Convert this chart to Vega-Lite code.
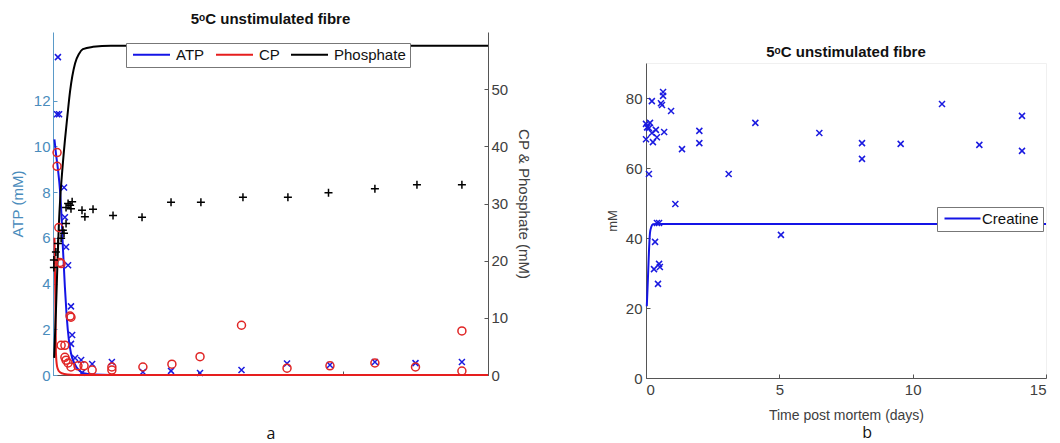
{
  "$schema": "https://vega.github.io/schema/vega-lite/v6.json",
  "padding": {"left": 10, "top": 12, "right": 0, "bottom": 0},
  "background": "white",
  "config": {"font": "Liberation Sans", "view": {"stroke": null}},
  "datasets": {
    "atpc": [
      {"s": "ATP", "t": 0.05, "v": 10.3}, {"s": "ATP", "t": 0.1, "v": 9.7}, {"s": "ATP", "t": 0.17, "v": 9.0},
      {"s": "ATP", "t": 0.24, "v": 8.1}, {"s": "ATP", "t": 0.3, "v": 6.8}, {"s": "ATP", "t": 0.34, "v": 5.6},
      {"s": "ATP", "t": 0.41, "v": 3.85}, {"s": "ATP", "t": 0.47, "v": 2.6}, {"s": "ATP", "t": 0.55, "v": 1.5},
      {"s": "ATP", "t": 0.62, "v": 0.95}, {"s": "ATP", "t": 0.76, "v": 0.45}, {"s": "ATP", "t": 0.9, "v": 0.2},
      {"s": "ATP", "t": 1.05, "v": 0.08}, {"s": "ATP", "t": 1.4, "v": 0.02}, {"s": "ATP", "t": 2, "v": 0},
      {"s": "ATP", "t": 15, "v": 0}
    ],
    "rc": [
      {"s": "CP", "t": 0.05, "v": 24}, {"s": "CP", "t": 0.08, "v": 14}, {"s": "CP", "t": 0.1, "v": 4},
      {"s": "CP", "t": 0.14, "v": 1.5}, {"s": "CP", "t": 0.2, "v": 0.7}, {"s": "CP", "t": 0.3, "v": 0.3},
      {"s": "CP", "t": 0.5, "v": 0.1}, {"s": "CP", "t": 1, "v": 0}, {"s": "CP", "t": 15, "v": 0},
      {"s": "Phosphate", "t": 0.04, "v": 3}, {"s": "Phosphate", "t": 0.1, "v": 11}, {"s": "Phosphate", "t": 0.15, "v": 19},
      {"s": "Phosphate", "t": 0.2, "v": 26}, {"s": "Phosphate", "t": 0.25, "v": 31}, {"s": "Phosphate", "t": 0.3, "v": 34.5},
      {"s": "Phosphate", "t": 0.41, "v": 41}, {"s": "Phosphate", "t": 0.5, "v": 45.5}, {"s": "Phosphate", "t": 0.59, "v": 49.7},
      {"s": "Phosphate", "t": 0.76, "v": 54.5}, {"s": "Phosphate", "t": 0.9, "v": 56.2}, {"s": "Phosphate", "t": 1.03, "v": 57},
      {"s": "Phosphate", "t": 1.38, "v": 57.4}, {"s": "Phosphate", "t": 2, "v": 57.6}, {"s": "Phosphate", "t": 15, "v": 57.6}
    ],
    "atpp": [
      {"t": 0.17, "v": 13.9}, {"t": 0.14, "v": 11.4}, {"t": 0.21, "v": 11.4}, {"t": 0.38, "v": 8.2},
      {"t": 0.41, "v": 6.9}, {"t": 0.45, "v": 5.6}, {"t": 0.52, "v": 4.8}, {"t": 0.62, "v": 3.0},
      {"t": 0.66, "v": 1.75}, {"t": 0.62, "v": 1.36}, {"t": 0.76, "v": 0.74}, {"t": 0.97, "v": 0.66},
      {"t": 1.35, "v": 0.48}, {"t": 2.03, "v": 0.57}, {"t": 1.0, "v": 0.1}, {"t": 3.1, "v": 0.13},
      {"t": 4.07, "v": 0.18}, {"t": 5.07, "v": 0.09}, {"t": 6.5, "v": 0.22}, {"t": 8.07, "v": 0.5},
      {"t": 9.55, "v": 0.44}, {"t": 11.1, "v": 0.57}, {"t": 12.5, "v": 0.52}, {"t": 14.1, "v": 0.57}
    ],
    "cpp": [
      {"t": 0.14, "v": 38.9}, {"t": 0.14, "v": 36.5}, {"t": 0.2, "v": 25.8}, {"t": 0.24, "v": 19.7},
      {"t": 0.28, "v": 19.5}, {"t": 0.62, "v": 10.1}, {"t": 0.59, "v": 10.3}, {"t": 0.28, "v": 5.2},
      {"t": 0.41, "v": 5.2}, {"t": 0.41, "v": 3.1}, {"t": 0.45, "v": 2.6}, {"t": 0.52, "v": 2.1},
      {"t": 0.62, "v": 1.4}, {"t": 0.86, "v": 1.6}, {"t": 1.07, "v": 1.6}, {"t": 1.35, "v": 0.87},
      {"t": 2.03, "v": 1.4}, {"t": 2.03, "v": 0.87}, {"t": 3.1, "v": 1.4}, {"t": 4.1, "v": 1.9},
      {"t": 5.07, "v": 3.2}, {"t": 6.5, "v": 8.7}, {"t": 8.07, "v": 1.2}, {"t": 9.55, "v": 1.6},
      {"t": 11.1, "v": 2.1}, {"t": 12.5, "v": 1.4}, {"t": 14.1, "v": 7.7}, {"t": 14.1, "v": 0.7}
    ],
    "pip": [
      {"t": 0.03, "v": 18.8}, {"t": 0.03, "v": 20.1}, {"t": 0.1, "v": 21.5}, {"t": 0.17, "v": 23.0},
      {"t": 0.28, "v": 23.9}, {"t": 0.34, "v": 25.3}, {"t": 0.38, "v": 24.8}, {"t": 0.45, "v": 26.5},
      {"t": 0.45, "v": 29.3}, {"t": 0.52, "v": 30.0}, {"t": 0.59, "v": 29.7}, {"t": 0.62, "v": 29.1},
      {"t": 0.66, "v": 30.3}, {"t": 1.0, "v": 28.8}, {"t": 1.1, "v": 27.7}, {"t": 1.38, "v": 29.0},
      {"t": 2.07, "v": 27.9}, {"t": 3.07, "v": 27.6}, {"t": 4.07, "v": 30.2}, {"t": 5.1, "v": 30.2},
      {"t": 6.55, "v": 31.1}, {"t": 8.1, "v": 31.1}, {"t": 9.5, "v": 31.9}, {"t": 11.1, "v": 32.6},
      {"t": 12.55, "v": 33.3}, {"t": 14.1, "v": 33.3}
    ],
    "crc": [
      {"s": "Creatine", "t": 0.03, "v": 20.5}, {"s": "Creatine", "t": 0.07, "v": 28}, {"s": "Creatine", "t": 0.11, "v": 36},
      {"s": "Creatine", "t": 0.15, "v": 41.5}, {"s": "Creatine", "t": 0.2, "v": 43.2}, {"s": "Creatine", "t": 0.26, "v": 43.9},
      {"s": "Creatine", "t": 0.4, "v": 44}, {"s": "Creatine", "t": 15, "v": 44}
    ],
    "crp": [
      {"t": 0.0, "v": 72.6}, {"t": 0.04, "v": 71.6}, {"t": 0.15, "v": 72.9}, {"t": 0.11, "v": 71.4},
      {"t": 0.0, "v": 68.2}, {"t": 0.22, "v": 79.1}, {"t": 0.22, "v": 70}, {"t": 0.37, "v": 70.9},
      {"t": 0.41, "v": 68.8}, {"t": 0.26, "v": 67.4}, {"t": 0.11, "v": 58.3}, {"t": 0.56, "v": 78.5},
      {"t": 0.6, "v": 78}, {"t": 0.64, "v": 81.7}, {"t": 0.64, "v": 80.6}, {"t": 0.68, "v": 70.3},
      {"t": 0.94, "v": 76.3}, {"t": 1.1, "v": 49.7}, {"t": 1.35, "v": 65.4}, {"t": 2.0, "v": 70.6},
      {"t": 2.0, "v": 67.1}, {"t": 3.1, "v": 58.3}, {"t": 4.1, "v": 72.9}, {"t": 6.5, "v": 70},
      {"t": 8.1, "v": 67.1}, {"t": 8.1, "v": 62.6}, {"t": 9.55, "v": 66.9}, {"t": 11.1, "v": 78.3},
      {"t": 12.5, "v": 66.6}, {"t": 14.1, "v": 74.9}, {"t": 14.1, "v": 64.9}, {"t": 0.34, "v": 38.9},
      {"t": 0.3, "v": 31.1}, {"t": 0.41, "v": 44.3}, {"t": 0.49, "v": 44.3}, {"t": 0.49, "v": 32.6},
      {"t": 0.52, "v": 31.7}, {"t": 0.45, "v": 26.9}, {"t": 5.06, "v": 40.9}
    ],
    "blank": [{"s": ""}]
  },
  "spacing": 74,
  "hconcat": [
    {
      "width": 435,
      "height": 343,
      "title": {"text": "5ᵒC unstimulated fibre", "fontSize": 15, "fontWeight": "bold", "anchor": "middle", "frame": "group", "offset": 5, "color": "#111111"},
      "layer": [
        {
          "layer": [
            {
              "data": {"name": "atpc"},
              "mark": {"type": "line", "strokeWidth": 2, "interpolate": "monotone"},
              "encoding": {
                "x": {"field": "t", "type": "quantitative", "scale": {"domain": [0, 15], "nice": false},
                  "axis": {"values": [0, 5, 10, 15], "labels": false, "grid": false, "tickSize": -4, "domainColor": "#555555", "tickColor": "#555555",
                    "title": "a", "titleFont": "Open Sans", "titleFontSize": 16, "titleFontWeight": "normal", "titleColor": "#111111", "titlePadding": 50}},
                "y": {"field": "v", "type": "quantitative", "scale": {"domain": [0, 15], "nice": false},
                  "axis": {"values": [0, 2, 4, 6, 8, 10, 12], "grid": false, "tickSize": -4, "labelPadding": 7, "labelFontSize": 15,
                    "title": "ATP (mM)", "titleFontSize": 15, "titleFontWeight": "normal", "titlePadding": 8,
                    "domainColor": "#5a9ac8", "tickColor": "#5a9ac8", "labelColor": "#4a8cbc", "titleColor": "#4a8cbc"}},
                "color": {"field": "s", "type": "nominal",
                  "scale": {"domain": ["ATP", "CP", "Phosphate"], "range": ["#1414e6", "#e61e1e", "#000000"]},
                  "legend": {"orient": "none", "legendX": 73, "legendY": 11, "direction": "horizontal", "title": null,
                    "symbolType": "M-3.7,0L3.7,0", "symbolSize": 100, "symbolStrokeWidth": 2, "symbolOffset": 14, "labelFontSize": 15, "labelColor": "#111111",
                    "labelOffset": 17, "columnPadding": 7, "fillColor": "white", "strokeColor": "#777777", "padding": 4}}
              }
            },
            {
              "data": {"name": "atpp"},
              "mark": {"type": "point", "shape": "M-1,-1L1,1M-1,1L1,-1", "filled": false, "color": "#1a1ae0", "strokeWidth": 1.5, "size": 36, "opacity": 1},
              "encoding": {
                "x": {"field": "t", "type": "quantitative"},
                "y": {"field": "v", "type": "quantitative"}
              }
            }
          ]
        },
        {
          "layer": [
            {
              "data": {"name": "rc"},
              "mark": {"type": "line", "strokeWidth": 2, "interpolate": "monotone"},
              "encoding": {
                "x": {"field": "t", "type": "quantitative"},
                "y": {"field": "v", "type": "quantitative", "scale": {"domain": [0, 60], "nice": false},
                  "axis": {"orient": "right", "values": [0, 10, 20, 30, 40, 50], "grid": false, "tickSize": -4, "labelPadding": 7, "labelFontSize": 15,
                    "title": "CP & Phosphate (mM)", "titleFontSize": 15, "titleFontWeight": "normal", "titlePadding": 8,
                    "domainColor": "#555555", "tickColor": "#555555", "labelColor": "#404040", "titleColor": "#404040"}},
                "color": {"field": "s", "type": "nominal"}
              }
            },
            {
              "data": {"name": "cpp"},
              "mark": {"type": "point", "shape": "circle", "filled": false, "color": "#e02525", "strokeWidth": 1.5, "size": 64, "opacity": 1},
              "encoding": {
                "x": {"field": "t", "type": "quantitative"},
                "y": {"field": "v", "type": "quantitative"}
              }
            },
            {
              "data": {"name": "pip"},
              "mark": {"type": "point", "shape": "M-1,0L1,0M0,-1L0,1", "filled": false, "color": "#000000", "strokeWidth": 1.5, "size": 64, "opacity": 1},
              "encoding": {
                "x": {"field": "t", "type": "quantitative"},
                "y": {"field": "v", "type": "quantitative"}
              }
            }
          ]
        }
      ],
      "resolve": {"scale": {"y": "independent"}}
    },
    {
      "title": {"text": "b", "orient": "bottom", "anchor": "middle", "font": "Open Sans", "fontSize": 16, "fontWeight": "normal", "color": "#111111", "offset": 2, "dx": 39},
      "spacing": 0,
      "vconcat": [
        {
          "width": 400,
          "height": 12,
          "data": {"name": "blank"},
          "mark": {"type": "text"},
          "encoding": {"text": {"field": "s"}}
        },
        {
          "width": 400,
          "height": 315,
          "view": {"stroke": "#f0f0f0"},
          "title": {"text": "5ᵒC unstimulated fibre", "fontSize": 15, "fontWeight": "bold", "anchor": "middle", "frame": "group", "offset": 3, "color": "#111111"},
          "layer": [
            {
              "data": {"name": "crc"},
              "mark": {"type": "line", "strokeWidth": 2, "interpolate": "monotone"},
              "encoding": {
                "x": {"field": "t", "type": "quantitative", "scale": {"domain": [0, 15], "nice": false},
                  "axis": {"values": [0, 5, 10, 15], "grid": false, "tickSize": -4, "labelPadding": 8, "labelFontSize": 15, "labelColor": "#404040",
                    "domainColor": "#555555", "tickColor": "#555555",
                    "title": "Time post mortem (days)", "titleFontSize": 14, "titleFontWeight": "normal", "titleColor": "#404040", "titlePadding": 11}},
                "y": {"field": "v", "type": "quantitative", "scale": {"domain": [0, 90], "nice": false},
                  "axis": {"values": [0, 10, 20, 30, 40, 50, 60, 70, 80, 90], "grid": false, "tickSize": -4, "labelPadding": 8, "labelFontSize": 15, "labelColor": "#404040",
                    "domainColor": "#555555", "tickColor": "#555555",
                    "title": "mM", "titleFontSize": 13, "titleFontWeight": "normal", "titleColor": "#404040", "titlePadding": 6}},
                "color": {"field": "s", "type": "nominal",
                  "scale": {"domain": ["Creatine"], "range": ["#1414e6"]},
                  "legend": {"orient": "none", "legendX": 291, "legendY": 175, "direction": "horizontal", "title": null,
                    "symbolType": "M-3.6,0L3.6,0", "symbolSize": 100, "symbolStrokeWidth": 2, "symbolOffset": 14, "labelFontSize": 15, "labelColor": "#111111",
                    "labelOffset": 12, "fillColor": "white", "strokeColor": "#777777", "padding": 4}}
              }
            },
            {
              "data": {"name": "crp"},
              "mark": {"type": "point", "shape": "M-1,-1L1,1M-1,1L1,-1", "filled": false, "color": "#1a1ae0", "strokeWidth": 1.5, "size": 36, "opacity": 1},
              "encoding": {
                "x": {"field": "t", "type": "quantitative"},
                "y": {"field": "v", "type": "quantitative"}
              }
            }
          ]
        }
      ]
    }
  ],
  "resolve": {"scale": {"x": "independent", "y": "independent", "color": "independent"}, "legend": {"color": "independent"}}
}
